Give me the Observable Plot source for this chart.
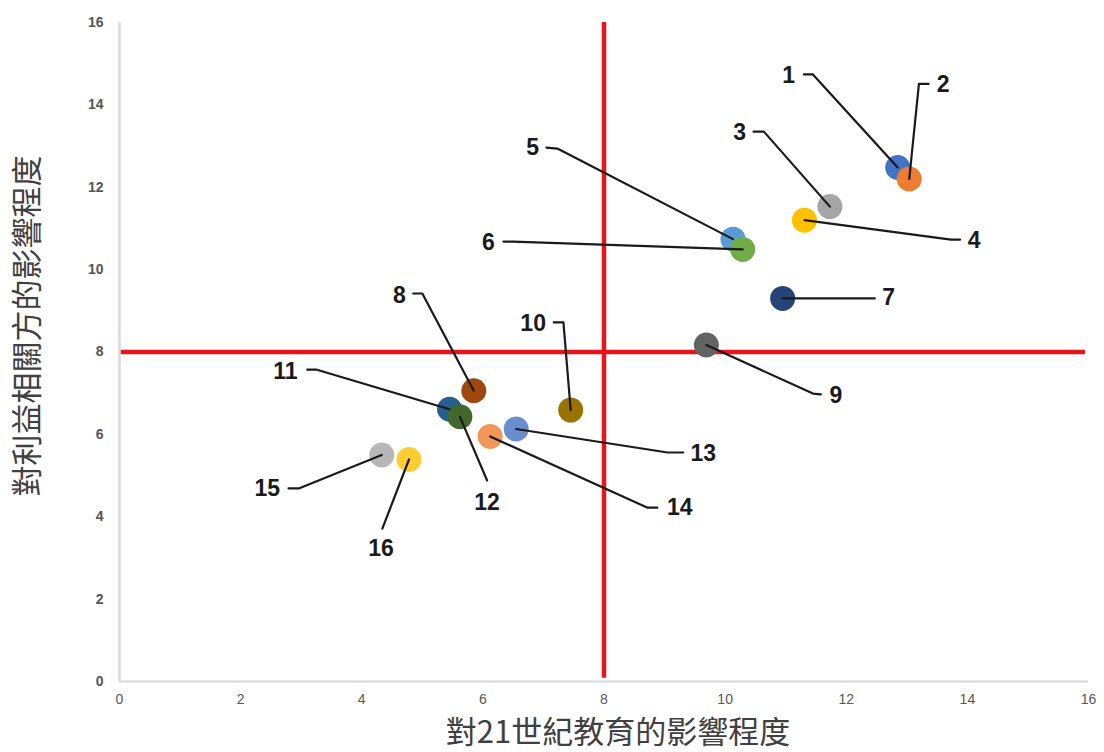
<!DOCTYPE html>
<html><head><meta charset="utf-8">
<script src="https://cdn.jsdelivr.net/npm/d3@7"></script>
<script src="https://cdn.jsdelivr.net/npm/@observablehq/plot@0.6"></script>
<style>body{margin:0;background:#fff} #chart svg{display:block}</style>
</head><body><div id="chart"></div>
<script>
// Stakeholders (ids) and their scores
const ids    = [1, 2, 3, 4, 5, 6, 7, 8, 9, 10, 11, 12, 13, 14, 15, 16];
const xs     = [12.85, 13.04, 11.73, 11.31, 10.13, 10.29, 10.95, 5.85, 9.69, 7.45, 5.45, 5.62, 6.55, 6.12, 4.33, 4.78];
const ys     = [12.48, 12.20, 11.53, 11.20, 10.74, 10.49, 9.30, 7.06, 8.17, 6.59, 6.61, 6.43, 6.13, 5.95, 5.50, 5.39];
const colors = ["#4472C4", "#ED7D31", "#A5A5A5", "#FFC000", "#5B9BD5", "#70AD47", "#264478", "#9E480E",
                "#636363", "#997300", "#255E91", "#43682B", "#698ED0", "#F1975A", "#B7B7B7", "#FFCD33"];
// Label anchors (data units) and leader-line hook (A near label, B elbow)
const labelX = [11.05, 13.60, 10.24, 14.11, 6.82, 6.09, 12.70, 4.62, 11.83, 6.83, 2.74, 6.07, 9.64, 9.25, 2.44, 4.32];
const labelY = [14.71, 14.49, 13.33, 10.71, 12.96, 10.66, 9.32, 9.37, 6.94, 8.69, 7.53, 4.35, 5.54, 4.22, 4.69, 3.23];
const hookAX = [11.30, 13.36, 10.47, 13.88, 7.05, 6.34, 12.47, 4.85, 11.58, 7.17, 3.10, 6.07, 9.31, 8.88, 2.79, 4.34];
const hookAY = [14.74, 14.51, 13.35, 10.73, 12.96, 10.68, 9.30, 9.42, 6.97, 8.72, 7.57, 4.88, 5.56, 4.22, 4.69, 3.71];
const hookBX = [11.45, 13.20, 10.64, 13.73, 7.23, 6.50, 12.47, 5.00, 11.45, 7.33, 3.26, 6.07, 9.05, 8.72, 2.97, 4.34];
const hookBY = [14.74, 14.51, 13.35, 10.73, 12.94, 10.68, 9.30, 9.42, 6.99, 8.72, 7.57, 4.88, 5.56, 4.22, 4.69, 3.71];
const xTicks = [0, 2, 4, 6, 8, 10, 12, 14, 16];
const yTicks = [0, 2, 4, 6, 8, 10, 12, 14, 16];
const threshold = 8;
const xTitle = "對21世紀教育的影響程度";
const yTitle = "對利益相關方的影響程度";

const idx = ids.map((_, i) => i);
const leaderRows = idx.flatMap(i => [
  {id: ids[i], x: hookAX[i], y: hookAY[i]},
  {id: ids[i], x: hookBX[i], y: hookBY[i]},
  {id: ids[i], x: xs[i], y: ys[i]}
]);

const cjk = "'Noto Sans CJK TC', 'Noto Sans CJK SC', sans-serif";
const chart = Plot.plot({
  width: 1104, height: 752,
  marginLeft: 119, marginRight: 16, marginTop: 22, marginBottom: 71,
  style: {background: "#fff", fontFamily: "'Liberation Sans', Arial, sans-serif", fontSize: "14px"},
  x: {domain: [0, 16]},
  y: {domain: [0, 16]},
  color: {type: "identity"},
  marks: [
    Plot.axisX({ticks: xTicks, tickSize: 0, tickPadding: 13, label: null, fontSize: 14, fill: "#595959"}),
    Plot.axisY({ticks: yTicks, tickSize: 0, tickPadding: 16, label: null, fontSize: 14, fill: "#555555", fontWeight: "bold"}),
    Plot.ruleY([0], {stroke: "#d9d9d9", strokeWidth: 2}),
    Plot.ruleX([0], {stroke: "#d9d9d9", strokeWidth: 2.5}),
    Plot.ruleX([threshold], {y1: 0.08, y2: 16, stroke: "#e8141c", strokeWidth: 4.5}),
    Plot.ruleY([threshold], {x1: 0.03, x2: 15.95, stroke: "#e8141c", strokeWidth: 4.5}),
    Plot.dot(idx, {x: i => xs[i], y: i => ys[i], r: 12.5, fill: i => colors[i]}),
    Plot.line(leaderRows, {x: "x", y: "y", z: "id", stroke: "#1a1a1a", strokeWidth: 2.2, curve: "linear"}),
    Plot.text(idx, {x: i => labelX[i], y: i => labelY[i], text: i => String(ids[i]),
      fontSize: 23, fontWeight: "bold", fill: "#1a1a1a"}),
    Plot.text([xTitle], {frameAnchor: "bottom", textAnchor: "middle", lineAnchor: "middle", dx: 14, dy: 52, text: d => d,
      fontSize: 31, fill: "#404040", fontFamily: cjk}),
    Plot.text([yTitle], {frameAnchor: "left", textAnchor: "middle", lineAnchor: "middle", dx: -91, dy: -26, rotate: -90, text: d => d,
      fontSize: 31, fill: "#404040", fontFamily: cjk})
  ]
});
document.getElementById("chart").appendChild(chart);
</script>
</body></html>
